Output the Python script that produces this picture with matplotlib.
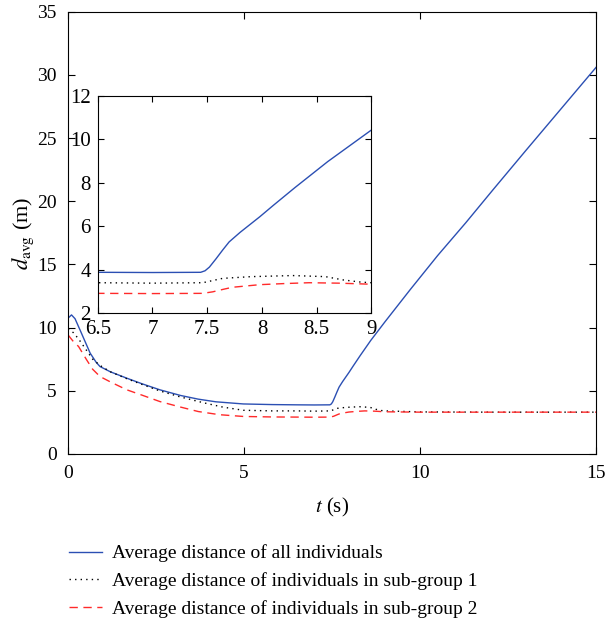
"""
Average distance d_avg over time, with zoomed inset around t = 6.5..9
"""
import numpy as np
import matplotlib.pyplot as plt

plt.rcParams['font.family'] = ['Liberation Serif', 'DejaVu Serif']
plt.rcParams['mathtext.fontset'] = 'stix'

# all individuals
t_all = [0, 0.1, 0.2, 0.34, 0.5, 0.63, 0.8, 0.91, 1.2, 1.67, 2.1, 2.61, 3.2, 3.7,
         4.2, 4.98, 5.8, 6.5, 7.0, 7.44, 7.48, 7.52, 7.58, 7.64, 7.70, 7.8, 7.9,
         7.98, 8.1, 8.3, 8.6, 9.0, 9.72, 10.5, 11.3, 12.07, 13.0, 14.0, 15.0]
d_all = [10.74, 11.0, 10.7, 9.82, 8.8, 7.97, 7.25, 6.91, 6.5, 5.99, 5.55, 5.07, 4.62,
         4.33, 4.12, 3.95, 3.9, 3.88, 3.87, 3.88, 3.95, 4.12, 4.5, 4.9, 5.28, 5.72,
         6.12, 6.44, 6.95, 7.78, 8.98, 10.44, 13.0, 15.7, 18.3, 20.9, 24.0, 27.3, 30.6]

# sub-group 1
t_g1 = [0, 0.15, 0.3, 0.5, 0.7, 0.91, 1.2, 1.67, 2.1, 2.61, 3.2, 3.84, 4.4,
        4.98, 5.8, 6.5, 7.0, 7.46, 7.55, 7.64, 7.9, 8.28, 8.58, 8.74, 8.9, 9.0,
        10.0, 12.0, 15.0]
d_g1 = [9.9, 9.6, 9.1, 8.3, 7.5, 7.0, 6.5, 5.95, 5.5, 4.98, 4.5, 4.05, 3.7,
        3.45, 3.4, 3.4, 3.38, 3.4, 3.5, 3.6, 3.68, 3.73, 3.68, 3.53, 3.43, 3.4,
        3.32, 3.3, 3.3]

# sub-group 2
t_g2 = [0, 0.15, 0.3, 0.53, 0.7, 0.91, 1.2, 1.67, 2.1, 2.61, 3.2, 3.7, 4.3,
        4.98, 5.8, 6.5, 7.0, 7.46, 7.55, 7.65, 7.73, 7.98, 8.2, 8.43, 8.7, 9.0,
        10.0, 12.0, 15.0]
d_g2 = [9.42, 8.9, 8.5, 7.44, 6.7, 6.12, 5.7, 5.07, 4.65, 4.14, 3.7, 3.35, 3.1,
        2.96, 2.92, 2.91, 2.9, 2.91, 2.98, 3.1, 3.19, 3.31, 3.36, 3.40, 3.38, 3.33,
        3.3, 3.3, 3.3]

labels = ['Average distance of all individuals',
          'Average distance of individuals in sub-group 1',
          'Average distance of individuals in sub-group 2']

blue = '#2b4fb3'
red = '#ff2a2a'
fs = 14

fig = plt.figure(figsize=(6.07, 6.2), dpi=100)
ax = fig.add_axes([0.112, 0.268, 0.870, 0.713])

ax.plot(t_all, d_all, color=blue, lw=1.0, label=labels[0])
ax.plot(t_g1, d_g1, color='black', lw=1.0, ls=(0, (1, 3)), label=labels[1])
ax.plot(t_g2, d_g2, color=red, lw=1.0, ls=(0, (6, 4)), label=labels[2])

ax.set_xlim(0, 15)
ax.set_ylim(0, 35)
ax.set_xticks([0, 5, 10, 15])
ax.set_yticks(range(0, 36, 5))
ax.tick_params(direction='in', top=True, right=True, labelsize=fs, length=5, pad=8)
ax.set_xlabel('$t$ (s)', fontsize=fs + 1, labelpad=10)
ax.set_ylabel(r'$d_{\mathrm{avg}}$ (m)', fontsize=fs + 2, labelpad=1)

fig.legend(loc='upper left', bbox_to_anchor=(0.085, 0.15), frameon=False,
           fontsize=fs, handlelength=1.7, handletextpad=0.5, labelspacing=0.5)

# inset
ins = fig.add_axes([0.161, 0.495, 0.451, 0.350])
ins.plot(t_all, d_all, color=blue, lw=1.0)
ins.plot(t_g1, d_g1, color='black', lw=1.0, ls=(0, (1, 3)))
ins.plot(t_g2, d_g2, color=red, lw=1.0, ls=(0, (6, 4)))
ins.set_xlim(6.5, 9)
ins.set_ylim(2, 12)
ins.set_xticks(np.arange(6.5, 9.01, 0.5))
ins.set_xticklabels(['6.5', '7', '7.5', '8', '8.5', '9'])
ins.set_yticks(range(2, 13, 2))
ins.tick_params(direction='in', top=True, right=True, labelsize=fs + 1, length=4, pad=5)

fig.savefig('out.png', dpi=100)
